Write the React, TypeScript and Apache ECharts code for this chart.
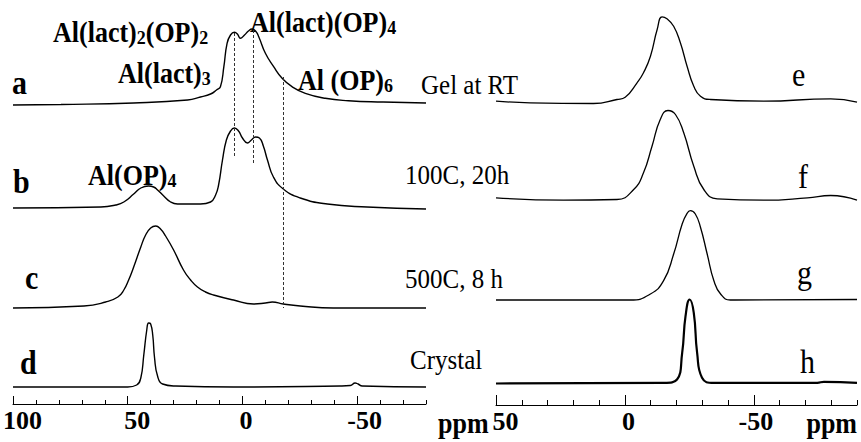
import React, { useEffect, useRef } from 'react';
import * as echarts from 'echarts';

// ---- axis ticks ----
const leftMajorTicks = [100, 50, 0, -50];
const rightMajorTicks = [50, 0, -50];

// ---- left panel spectra (ppm, intensity above own baseline, a.u.) ----
const aPpm = [100, 79.1, 47.4, 23.9, 18.3, 13.9, 11.3, 9.6, 8.1, 6.7, 5.2, 3.5, 2.2, 0.9, -0.9, -2.6, -4.2, -5.7, -7.1, -10, -13.6, -17.3, -21.6, -27.4, -36.1, -46.2, -61.3, -80];
const aInt = [-2, -1.5, 0, 3, 6, 9, 13, 16.3, 36.3, 59.7, 68, 70.7, 69, 64.7, 68, 72, 74, 72, 66.3, 49.7, 36.3, 24.7, 16.3, 9.7, 4.7, 2.3, 1, 0];

const bPpm = [100, 61.7, 55.2, 51.7, 47.4, 44.3, 40.9, 38.7, 37, 34.3, 31.3, 28.3, 18.3, 13.9, 11.7, 10.4, 8.7, 7, 5.2, 3.5, 1.7, 0, -2.2, -3.9, -5.7, -7.4, -9.1, -10.9, -13.5, -17.8, -25.2, -37, -54.3, -80];
const bInt = [0, 1, 3, 6, 14, 20, 22, 21, 18, 12, 6, 4, 4, 6, 13, 23, 48, 68, 77, 80, 77, 70, 65, 68, 71, 70, 62, 48, 31, 19, 10, 4, 1, -1];

const cPpm = [100, 69.1, 59.6, 54.3, 51.7, 49.6, 47.4, 44.3, 42.2, 40, 37.8, 35.7, 33.5, 30, 25.7, 22.6, 19.6, 16.1, 12.6, 3.9, -4.8, -10, -13, -17.8, -25.2, -39.6, -80];
const cInt = [0, 2, 6, 11, 18, 28, 41, 61, 73, 80, 82, 79, 72, 58, 38, 28, 21, 16, 13, 8, 4, 5, 6, 4, 2, 0, 0];

const dPpm = [100, 50, 46.1, 44.3, 43, 41.7, 40.9, 40, 39.1, 38.3, 37, 34.8, 29.1, 3.9, -42.6, -47, -49.1, -50.4, -52.2, -80];
const dInt = [0, 0, 2, 9, 32, 57, 64, 63, 52, 29, 11, 3, 1, 0, 1, 1.5, 4, 3, 1, 0];

// ---- right panel spectra ----
const ePpm = [50, 36.8, 12.2, 3.1, -0.1, -4.7, -7.2, -9.9, -12.5, -14.4, -16.3, -18.9, -21.5, -24.1, -26.7, -29.3, -33.2, -53.9, -79.8, -90];
const eInt = [1.3, -0.3, -1, 3, 5.3, 19.7, 29.7, 46.3, 73, 85.7, 83.7, 76.3, 59.7, 36.3, 16.3, 6.3, 3, 1.3, 3.7, 0.3];

const fPpm = [50, 23.8, 3.1, -3.4, -7.2, -10.5, -13.7, -16.7, -19.6, -22.8, -26.7, -30.6, -35.8, -53.9, -70.8, -79.8, -90];
const fInt = [2.7, 0.3, 1, 11, 27.7, 54.3, 81, 90, 86, 67.7, 34.3, 11, 1.7, 0.3, 2.7, 5, 0.3];

const gPpm = [50, 9.6, -2.1, -9.9, -15, -18.9, -22.2, -24.1, -25.4, -27.3, -29.3, -31.9, -34.5, -37.1, -40.9, -90];
const gInt = [0, 0, 0, 6, 19.3, 46, 76, 86.7, 89.3, 86, 72.7, 46, 19.3, 6, 0, 0.5];

const hPpm = [50, -15, -20.2, -22.2, -23.5, -25.1, -26.7, -28, -29.9, -34.5, -74.6, -77.2, -90];
const hInt = [0, 0.7, 4, 30.7, 67.3, 84, 70.7, 30.7, 5.7, 0.7, 0.7, 1.7, 0.7];

// stacking baselines (a.u.) for the traces
const leftOffsets = [301, 196, 96, 17];
const rightOffsets = [302.5, 204.5, 105, 21.5];

// dashed guide lines in the left panel: ppm, top, bottom (a.u.)
const guidePpm = [3.4, -4.9, -17.7];
const guideTop = [371, 374, 327];
const guideBottom = [246, 241, 96];

const SERIF = '"Liberation Serif", "Times New Roman", serif';

function traceData(ppm: number[], inten: number[], offset: number) {
  return ppm.map((p, i) => [p, offset + inten[i]]);
}

const labelShift: Record<string, string> = { '100': 'w', '50': 'w', '0': 'n', '-50': 'm' };
const labelShiftR: Record<string, string> = { '50': 'w', '0': 'n', '-50': 'k' };

function axisLabelCfg(customValues: number[], map: Record<string, string>) {
  const base = { fontFamily: SERIF, fontWeight: 'bold', fontSize: 26, color: '#000' };
  return {
    show: true,
    customValues,
    margin: 3,
    formatter: (v: number) => `{${map[String(v)] || 'n'}|${v}}`,
    rich: {
      w: { ...base, padding: [0, 0, 0, 19] },
      m: { ...base, padding: [0, 0, 0, 15] },
      n: { ...base, padding: [0, 0, 0, 7] },
      k: { ...base, padding: [0, 0, 0, 4] },
    },
  };
}

function txt(x: number, y: number, text: string, size: number, bold: boolean, align = 'left') {
  return {
    type: 'text',
    x,
    y,
    scaleY: 1.1,
    style: {
      text,
      fill: '#000',
      fontFamily: SERIF,
      fontSize: size,
      fontWeight: bold ? 'bold' : 'normal',
      align,
      verticalAlign: 'middle',
    },
  };
}

function subTxt(x: number, y: number, text: string) {
  return {
    type: 'text',
    x,
    y,
    scaleY: 1.1,
    style: {
      text,
      fill: '#000',
      align: 'left',
      verticalAlign: 'middle',
      rich: {
        m: { fontFamily: SERIF, fontWeight: 'bold', fontSize: 26, lineHeight: 26, fill: '#000', verticalAlign: 'middle' },
        s: { fontFamily: SERIF, fontWeight: 'bold', fontSize: 18, lineHeight: 10, fill: '#000', verticalAlign: 'bottom' },
      },
    },
  };
}

export default function App() {
  const ref = useRef<HTMLDivElement>(null);
  useEffect(() => {
    if (!ref.current) return;
    const chart = echarts.init(ref.current, undefined, { renderer: 'svg' });
    const lineBase = { type: 'line', showSymbol: false, smooth: 0.5, silent: true };
    const black = '#000';
    const option: any = {
      animation: false,
      backgroundColor: '#fff',
      grid: [
        { left: 12, top: 0, width: 414, height: 404 },
        { left: 496, top: 0, width: 361, height: 405 },
      ],
      xAxis: [
        {
          gridIndex: 0, type: 'value', min: -80, max: 100, inverse: true, interval: 10, position: 'bottom',
          axisLine: { show: true, lineStyle: { color: black, width: 1 } },
          axisTick: { show: true, inside: true, length: 4, lineStyle: { color: black } },
          axisLabel: axisLabelCfg(leftMajorTicks, labelShift),
          splitLine: { show: false },
        },
        {
          gridIndex: 0, type: 'value', min: -80, max: 100, inverse: true, position: 'bottom', offset: 0,
          axisLine: { show: false },
          axisTick: { show: true, inside: true, length: 8, customValues: leftMajorTicks, lineStyle: { color: black } },
          axisLabel: { show: false },
          splitLine: { show: false },
        },
        {
          gridIndex: 1, type: 'value', min: -90, max: 50, inverse: true, interval: 10, position: 'bottom',
          axisLine: { show: true, lineStyle: { color: black, width: 1 } },
          axisTick: { show: true, inside: true, length: 5, lineStyle: { color: black } },
          axisLabel: axisLabelCfg(rightMajorTicks, labelShiftR),
          splitLine: { show: false },
        },
        {
          gridIndex: 1, type: 'value', min: -90, max: 50, inverse: true, position: 'bottom', offset: 0,
          axisLine: { show: false },
          axisTick: { show: true, inside: true, length: 10, customValues: rightMajorTicks, lineStyle: { color: black } },
          axisLabel: { show: false },
          splitLine: { show: false },
        },
      ],
      yAxis: [
        { gridIndex: 0, type: 'value', min: 0, max: 404, show: false },
        { gridIndex: 1, type: 'value', min: 0, max: 405, show: false },
      ],
      series: [
        {
          ...lineBase, name: 'a', xAxisIndex: 0, yAxisIndex: 0,
          data: traceData(aPpm, aInt, leftOffsets[0]),
          lineStyle: { color: black, width: 1.4 },
          markLine: {
            silent: true, symbol: ['none', 'none'], label: { show: false },
            lineStyle: { color: '#333', width: 1, type: [3, 2] },
            data: guidePpm.map((p, i) => [{ coord: [p, guideTop[i]] }, { coord: [p, guideBottom[i]] }]),
          },
        },
        { ...lineBase, name: 'b', xAxisIndex: 0, yAxisIndex: 0, data: traceData(bPpm, bInt, leftOffsets[1]), lineStyle: { color: black, width: 1.4 } },
        { ...lineBase, name: 'c', xAxisIndex: 0, yAxisIndex: 0, data: traceData(cPpm, cInt, leftOffsets[2]), lineStyle: { color: black, width: 1.4 } },
        { ...lineBase, name: 'd', xAxisIndex: 0, yAxisIndex: 0, data: traceData(dPpm, dInt, leftOffsets[3]), lineStyle: { color: black, width: 1.4 } },
        { ...lineBase, name: 'e', xAxisIndex: 2, yAxisIndex: 1, data: traceData(ePpm, eInt, rightOffsets[0]), lineStyle: { color: black, width: 1.3 } },
        { ...lineBase, name: 'f', xAxisIndex: 2, yAxisIndex: 1, data: traceData(fPpm, fInt, rightOffsets[1]), lineStyle: { color: black, width: 1.3 } },
        { ...lineBase, name: 'g', xAxisIndex: 2, yAxisIndex: 1, data: traceData(gPpm, gInt, rightOffsets[2]), lineStyle: { color: black, width: 1.3 } },
        { ...lineBase, name: 'h', xAxisIndex: 2, yAxisIndex: 1, data: traceData(hPpm, hInt, rightOffsets[3]), lineStyle: { color: black, width: 2.2 } },
      ],
      graphic: [
        txt(12, 83, 'a', 30, true),
        txt(13, 182, 'b', 30, true),
        txt(25, 278, 'c', 30, true),
        txt(20, 363, 'd', 30, true),
        txt(792, 75, 'e', 30, false),
        txt(798, 177, 'f', 30, false),
        txt(797, 273, 'g', 30, false),
        txt(800, 362, 'h', 30, false),
        txt(421, 85, 'Gel at RT', 25, false),
        txt(405, 175, '100C, 20h', 25, false),
        txt(405, 279, '500C, 8 h', 25, false),
        txt(410, 360, 'Crystal', 25, false),
        subTxt(53, 33, '{m|Al(lact)}{s|2}{m|(OP)}{s|2}'),
        subTxt(118, 74, '{m|Al(lact)}{s|3}'),
        subTxt(250, 23, '{m|Al(lact)(OP)}{s|4}'),
        subTxt(298, 81, '{m|Al (OP)}{s|6}'),
        subTxt(88, 176, '{m|Al(OP)}{s|4}'),
        txt(438, 424, 'ppm', 26, true),
        txt(857, 424, 'ppm', 26, true, 'right'),
      ],
    };
    chart.setOption(option);
    return () => chart.dispose();
  }, []);
  return <div ref={ref} style={{ position: 'fixed', left: 0, top: 0, width: 861, height: 442 }} />;
}
